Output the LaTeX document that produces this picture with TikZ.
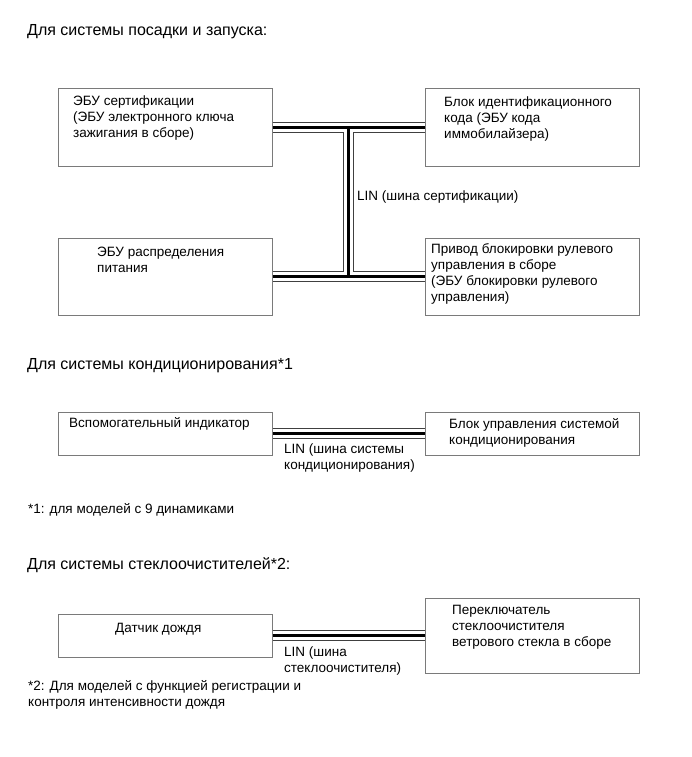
\documentclass[tikz,border=0pt]{standalone}
\usepackage{fontspec}
\setmainfont{Liberation Sans}
\usepackage{tikz}
\usetikzlibrary{positioning, calc}
\definecolor{boxgray}{HTML}{7A7A7A}
\definecolor{busedge}{HTML}{404040}

\newcommand{\titlefont}{\fontsize{16}{19}\selectfont}
\newcommand{\boxfont}{\fontsize{13.5}{16}\selectfont}

\begin{document}
\begin{tikzpicture}[
    x=1pt, y=-1pt,
    unit/.style={rectangle, draw=boxgray, line width=1pt, inner sep=0pt},
    label/.style={anchor=west, inner sep=0pt, align=left, font=\boxfont},
    heading/.style={anchor=west, inner sep=0pt, font=\titlefont},
    busouter/.style={line width=11pt, busedge},
    busgap/.style={line width=9pt, white},
    buscore/.style={line width=3.2pt, black}
]
\useasboundingbox (0,0) rectangle (691,757);

% Entry and start system
\node[heading] (title1) at (27,32) {Для системы посадки и запуска:};

\node[unit, minimum width=214pt, minimum height=77pt] (certecu) at (165,127.5) {};
\node[unit, minimum width=214pt, minimum height=77pt] (idcode) at (532,127.5) {};
\node[unit, minimum width=214pt, minimum height=77pt] (pwrecu) at (165,276.5) {};
\node[unit, minimum width=214pt, minimum height=77pt] (lockecu) at (532,276.5) {};

\node[label] (certtxt) at (73,118) {ЭБУ сертификации\\(ЭБУ электронного ключа\\зажигания в сборе)};
\node[label] (idtxt) at (444,119) {Блок идентификационного\\кода (ЭБУ кода\\иммобилайзера)};
\node[label] (pwrtxt) at (97,259.5) {ЭБУ распределения\\питания};
\node[label] (locktxt) at (431,274) {Привод блокировки рулевого\\управления в сборе\\(ЭБУ блокировки рулевого\\управления)};

\coordinate (tee1) at ($(certecu.east)!0.5!(idcode.west)$);
\coordinate (tee2) at (tee1 |- pwrecu.east);
\node[label] (lin1) at (357,197) {LIN (шина сертификации)};

% Air conditioning system
\node[heading] (title2) at (27,366) {Для системы кондиционирования*1};

\node[unit, minimum width=214pt, minimum height=43pt] (subind) at (165,433.5) {};
\node[unit, minimum width=214pt, minimum height=43pt] (acctrl) at (532,433.5) {};
\node[label] (subtxt) at (69,424) {Вспомогательный индикатор};
\node[label] (actxt) at (449,433) {Блок управления системой\\кондиционирования};
\node[label] (lin2) at (284,458.5) {LIN (шина системы\\кондиционирования)};
\node[label] (note1) at (28,510) {*1: для моделей с 9 динамиками};

% Wiper system
\node[heading] (title3) at (27,565) {Для системы стеклоочистителей*2:};

\node[unit, minimum width=214pt, minimum height=43pt] (rainsens) at (165,635.5) {};
\node[unit, minimum width=214pt, minimum height=75pt] (wiperswitch) at (532,635.5) {};
\node[label] (raintxt) at (115,629) {Датчик дождя};
\node[label] (wipertxt) at (452,627) {Переключатель\\стеклоочистителя\\ветрового стекла в сборе};
\node[label] (lin3) at (284,661) {LIN (шина\\стеклоочистителя)};
\node[label] (note2) at (28,694.5) {*2: Для моделей с функцией регистрации и\\контроля интенсивности дождя};

% Buses
\foreach \layer in {busouter, busgap, buscore} {
    \draw[\layer] (certecu.east) -- (idcode.west);
    \draw[\layer] (pwrecu.east) -- (lockecu.west);
    \draw[\layer] (tee1) -- (tee2);
    \draw[\layer] (subind.east) -- (acctrl.west);
    \draw[\layer] (rainsens.east) -- (wiperswitch.west);
}

\end{tikzpicture}
\end{document}
